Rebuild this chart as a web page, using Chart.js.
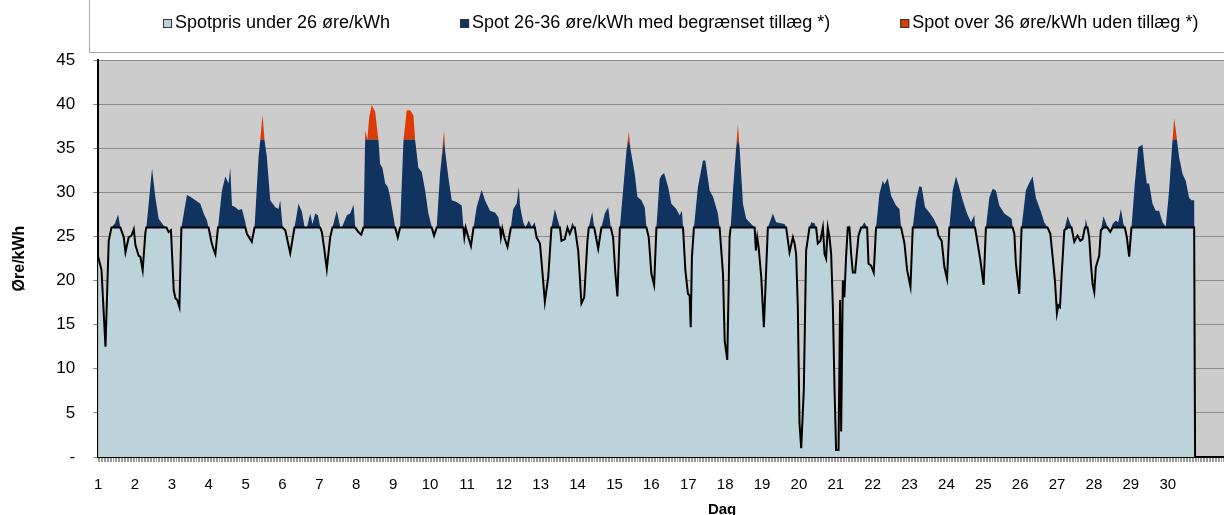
<!DOCTYPE html>
<html>
<head>
<meta charset="utf-8">
<script src="https://cdn.jsdelivr.net/npm/chart.js@4"></script>
<style>
html, body { margin: 0; padding: 0; overflow: hidden; background: #fff; }
canvas { display: block; }
</style>
</head>
<body>
<canvas id="chart" width="1360" height="519"></canvas>
<script>
// hour of the month (0 = day 1, 00:00) and the spot price (øre/kWh)
const hours = [
  0, 2.2, 4.8, 6.9, 8.7, 11, 13, 14.5, 16.7, 17.8, 19.9, 21.7, 23.2,
  24.3, 26.4, 27.5, 29, 30.8, 31.4, 35.1, 37.3, 39.4, 42.7, 44.5, 45.9, 47.4,
  49.2, 50.3, 51.5, 52.9, 54.2, 57.8, 60, 63.3, 66.5, 68.7, 70.8, 71.9,
  73.7, 75, 76.3, 78, 80.6, 82.8, 84.9, 86, 87.1, 89.3, 91.4, 93.6, 95.8,
  96.8, 100, 101.8, 104.4, 105.5, 107, 108.3, 109.8, 112, 115.3, 117.4, 118.5,
  120, 121.8, 125, 127.8, 130.4, 132.6, 134.3, 135.9, 138, 139.5, 141.3, 143,
  144.5, 145.6, 147.3, 148.8, 151, 152.5, 155.3, 157.5, 158.6, 161.9, 164, 166.2, 167.3,
  169.4, 171.2, 172.7, 173.8, 175.2, 176.4, 178.1, 180.3, 182.4, 183.5, 185, 186.8, 188.5, 190, 192.2, 193.3,
  195, 196.5, 198.7, 200.8, 203, 205.2, 206.3, 208.4, 210.6, 212.8, 214.9, 217.1,
  218.6, 220.3, 222.5, 225.1, 225.8, 227.9, 230.1, 233.3, 236.6, 237.7, 238.3, 239.2,
  240.9, 242.6, 244.3, 246.3, 249.6, 251.7, 255, 258.2, 260.4, 261.5, 262.1, 263,
  264.3, 266.4, 268.6, 270.1, 272.3, 273.8, 274.5, 276.6, 278.1, 280.3, 282.1, 284.2, 285.3, 287.5,
  289, 290.7, 292.9, 295, 297.2, 298.9, 300.5, 301.5, 303.7, 305.4, 306.9, 308.5, 310.2,
  312.4, 314.5, 316.3, 318.4, 319.3, 321.5, 322.8, 325.4, 327.5, 329.7, 331.9, 333.6, 335.1,
  336.6, 337.9, 339.5, 341.6, 343.8, 345.3, 346.6, 349.2, 350.9, 353.5, 355.7, 356.8, 358.3,
  360, 361.8, 363.3, 365.4, 366.5, 368.3, 370.9, 373, 376.2, 378.4, 379.9, 380.6,
  382.1, 383.8, 384.9, 385.6, 386.4, 387.7, 390.3, 393.6, 395.1, 397.9, 400.1, 403.3, 404.4,
  406.6, 407.7, 409.4, 410.9, 411.6, 413.1, 415.2, 416.3, 417.4, 419.6, 421.7, 425, 427.2,
  428, 428.9, 429.8, 431.5, 433.2, 434.7, 435.8, 439.1, 441.2, 446.7, 447.7, 449.9, 452.1,
  453.2, 454.2, 455.3, 456.4, 457.5, 459.2, 460.7, 462.9, 464, 466.2, 467.2, 468.3, 470,
  471.6, 472.7, 473.7, 474.8, 475.9, 477, 478.1, 479.2, 480.2, 481.8, 482.8, 483.5, 484.6,
  485.6, 486.7, 487.8, 488.9, 490, 491.1, 492.6, 494.8, 496.5, 498.7, 500.4, 501.3, 503,
  504.7, 506.2, 508.4, 510.6, 511.7, 513.8, 516, 519.2, 521.4, 522.5, 524.7, 526.4, 528.6,
  530.1, 532.2, 534.4, 535.9, 538.1, 540.9, 543.7, 545.9, 546.8, 548.9, 550.7, 552.4, 553.9,
  556.1, 558.2, 559.8, 562.6, 565.4, 568, 570.2, 570.6, 572.3, 574.1, 576.2, 577.7,
  579.9, 582.1, 584.2, 586.4, 589.7, 592.9, 594.4, 595.1, 596.2, 597.2, 599.4, 600.9,
  603.7, 605.9, 608.1, 610.2, 613.5, 615.6, 617.8, 619.6, 621.1, 622.6, 623.9, 624.8, 625.9,
  626.9, 628.7, 630.8, 633.4, 635.2, 637.3, 639.1, 640.6, 642.1, 642.7, 643.8, 644.9, 646,
  647.1, 648.2, 649.2, 651.4, 652.5, 654.2, 656.8, 658.6, 660.1, 662.2, 663.8, 665.5, 667.2,
  668.1, 669.4, 670.9, 672.4, 674.6, 676.8, 679.6, 681.1, 682.4, 683.9, 686.1, 688.2, 690.4,
  692.6, 694.7, 696.9, 699.1, 700.2, 701.9, 703.4, 705.6, 707.7, 709.9, 711.4, 713.2, 713.8
];
const price = [
  22.7, 21.2, 12.5, 24.5, 26, 26.5, 27.5, 26, 24.9, 23.2, 24.9, 25.1, 25.8,
  24, 22.8, 22.7, 21.2, 25.5, 26, 32.7, 29.4, 27, 26.2, 26, 25.5, 25.7,
  18.9, 18, 17.8, 17, 26, 29.7, 29.5, 29.1, 28.7, 27.6, 26.8, 26,
  24.4, 23.6, 23, 26, 30.2, 31.8, 31, 32.8, 28.5, 28.3, 28, 28.1, 26.6,
  25.3, 24.4, 26, 34, 35.9, 38.8, 35.9, 34, 29.1, 28.3, 28.1, 29.1,
  26.2, 25.7, 23.1, 26, 28.7, 27.8, 26.1, 26, 27.6, 26.4, 27.6, 27.4,
  26.1, 25.5, 23.4, 21.3, 24.9, 26, 27.9, 26.1, 26, 27.4, 27.6, 28.6, 26.1,
  25.5, 25.2, 26, 37, 36, 38.5, 39.9, 39.1, 35.9, 33.2, 32.8, 31, 30.6, 29.5, 27.2, 26,
  24.9, 26, 35.9, 39.3, 39.3, 38.7, 35.9, 32.8, 32.3, 30.2, 27.6, 26.1,
  25.1, 26, 32.1, 37, 34.7, 31.7, 29.1, 28.9, 28.5, 26, 24.9, 26,
  24.9, 23.9, 26, 28.3, 30.3, 29.1, 27.9, 27.7, 27.2, 26, 24.9, 25.9,
  24.9, 23.8, 26, 28.1, 28.7, 30.6, 28.5, 26.6, 26, 26.8, 26.1, 26.6, 24.9, 24.2,
  21.2, 17.6, 20.4, 26, 28.1, 27, 26, 24.5, 24.7, 26, 25.3, 26.6, 26,
  23.4, 17.4, 18.1, 24.5, 26, 27.8, 26, 23.6, 26, 27.6, 28.3, 26, 24.9,
  20.8, 18.2, 26, 30.2, 34.7, 36.9, 34.7, 32.1, 29.5, 29.1, 28.3, 26, 24.9,
  20.8, 19.5, 26, 31.5, 31.9, 32.2, 30.6, 28.7, 28.1, 27.4, 27.9, 26,
  21.2, 18.5, 18.3, 14.7, 22.7, 26, 30.6, 33.6, 33.6, 30.2, 29.5, 27.6, 26,
  20.8, 13.2, 11, 24.9, 26, 30.2, 35.1, 37.7, 35.1, 28.7, 27, 26.4, 26,
  23.4, 24.9, 23.8, 20.4, 14.7, 21.2, 26, 27.6, 26.6, 26.4, 26, 23.2, 24.9,
  24.2, 23, 17, 3.8, 1, 7.6, 23.4, 26, 26.6, 26.5, 26, 24.2, 24.5,
  26.4, 23, 22.5, 26, 24.9, 23, 17, 7.6, 0.8, 0.8, 17.8, 2.9, 20,
  18.1, 22.7, 26, 26.3, 23, 20.9, 20.9, 25.1, 26, 26.6, 26, 21.9, 21.7,
  20.9, 26, 29.8, 31.3, 30.9, 31.6, 29.6, 28.5, 28.1, 26, 24.2, 21.2, 19.3,
  26, 29.1, 30.7, 30.6, 28.3, 27.7, 27, 26.2, 25.1, 24.5, 21.5, 20.2, 26,
  30.2, 31.8, 30.9, 29.1, 27.6, 26.6, 27.4, 26, 24.2, 22.3, 19.5, 26,
  29.4, 30.4, 30.2, 28.5, 27.6, 27.2, 27, 26, 25.3, 21.9, 18.5, 26,
  30.2, 31.1, 31.8, 29.4, 27.8, 26.6, 26, 25.3, 22.7, 20, 16.3, 17.2, 17,
  20.4, 25.7, 27.3, 26.1, 24.4, 25.1, 24.5, 24.7, 26, 27, 26, 24.9, 21.9,
  19.6, 18.7, 21.5, 22.8, 25.7, 27.3, 26.1, 25.5, 26.4, 26.8, 26.6, 28.1, 26.4,
  26, 24.9, 22.7, 26, 31, 35.1, 35.4, 32.8, 31, 31, 28.7, 27.9, 27.9,
  26.6, 26.1, 30.2, 35.9, 38.4, 36.2, 34, 32.1, 31.3, 29.4, 29.1, 29.1, 0
];
const days = ['1','2','3','4','5','6','7','8','9','10','11','12','13','14','15',
  '16','17','18','19','20','21','22','23','24','25','26','27','28','29','30'];
const seriesNames = [
  'Spotpris under 26 øre/kWh',
  'Spot 26-36 øre/kWh med begrænset tillæg *)',
  'Spot over 36 øre/kWh uden tillæg *)'
];
const seriesColors = ['#BBD3D9', '#10335F', '#DC3B04'];
const lowLimit = 26;
const highLimit = 36;

Chart.defaults.font.family = '"Liberation Sans", Arial, sans-serif';
Chart.defaults.color = '#000';

// split the price into the three bands
const lowBand = hours.map((h, i) => ({ x: h, y: Math.min(price[i], lowLimit) }));
const midBand = hours.map((h, i) => ({ x: h, y: Math.min(price[i], highLimit) }));
const topBand = hours.map((h, i) => ({ x: h, y: price[i] }));

// grey plot background
const plotBg = {
  id: 'plotBg',
  beforeDraw(chart) {
    const a = chart.chartArea;
    const ctx = chart.ctx;
    ctx.save();
    ctx.fillStyle = '#CCCCCC';
    ctx.fillRect(a.left, a.top, a.right - a.left, a.bottom - a.top);
    ctx.restore();
  }
};

// boxed legend on top, like the spreadsheet one
const legendBox = {
  id: 'legendBox',
  afterDraw(chart) {
    const ctx = chart.ctx;
    ctx.save();
    ctx.strokeStyle = '#a6a6a6';
    ctx.lineWidth = 1;
    ctx.strokeRect(chart.chartArea.left - 8.5, -1, chart.width, 53.5);
    ctx.font = '18px "Liberation Sans", Arial, sans-serif';
    ctx.textBaseline = 'middle';
    let x = 163;
    chart.data.datasets.forEach(ds => {
      ctx.fillStyle = ds.backgroundColor;
      ctx.fillRect(x, 19, 9, 9);
      ctx.strokeStyle = '#333';
      ctx.strokeRect(x + 0.5, 19.5, 8, 8);
      ctx.fillStyle = '#000';
      ctx.fillText(ds.label, x + 12, 23.5);
      x += 12 + ctx.measureText(ds.label).width + 70;
    });
    ctx.restore();
  }
};

new Chart(document.getElementById('chart'), {
  type: 'line',
  data: {
    datasets: [
      {
        label: seriesNames[0],
        data: lowBand,
        fill: 'origin',
        backgroundColor: seriesColors[0],
        borderColor: '#000',
        borderWidth: 2,
        pointRadius: 0,
        tension: 0
      },
      {
        label: seriesNames[1],
        data: midBand,
        fill: '-1',
        backgroundColor: seriesColors[1],
        borderColor: 'transparent',
        borderWidth: 0,
        pointRadius: 0,
        tension: 0
      },
      {
        label: seriesNames[2],
        data: topBand,
        fill: '-1',
        backgroundColor: seriesColors[2],
        borderColor: 'transparent',
        borderWidth: 0,
        pointRadius: 0,
        tension: 0
      }
    ]
  },
  options: {
    responsive: false,
    animation: false,
    layout: { padding: { top: 60, left: 0, right: 0, bottom: 0 } },
    plugins: {
      legend: { display: false },
      tooltip: { enabled: false }
    },
    scales: {
      x: {
        type: 'linear',
        min: 0,
        max: 812,
        border: { color: '#000', width: 2 },
        grid: { drawOnChartArea: false, tickLength: 5, color: '#9a9a9a', tickColor: '#9a9a9a' },
        ticks: {
          stepSize: 1,
          autoSkip: false,
          maxRotation: 0,
          minRotation: 0,
          padding: 14,
          font: { size: 15 },
          callback: v => (v % 24 === 0 && v / 24 < days.length) ? days[v / 24] : ''
        },
        title: {
          display: true,
          text: 'Dag',
          font: { size: 15, weight: 'bold' },
          padding: { top: -7, bottom: 0 }
        }
      },
      y: {
        min: 0,
        max: 45,
        border: { color: '#000', width: 2 },
        grid: { color: '#8c8c8c', tickLength: 5, tickColor: '#8c8c8c' },
        ticks: {
          stepSize: 5,
          padding: 18,
          font: { size: 17 },
          callback: v => v === 0 ? '-' : v
        },
        title: {
          display: true,
          text: 'Øre/kWh',
          font: { size: 16, weight: 'bold' },
          padding: { top: 10, bottom: 9 }
        }
      }
    }
  },
  plugins: [plotBg, legendBox]
});
</script>
</body>
</html>
